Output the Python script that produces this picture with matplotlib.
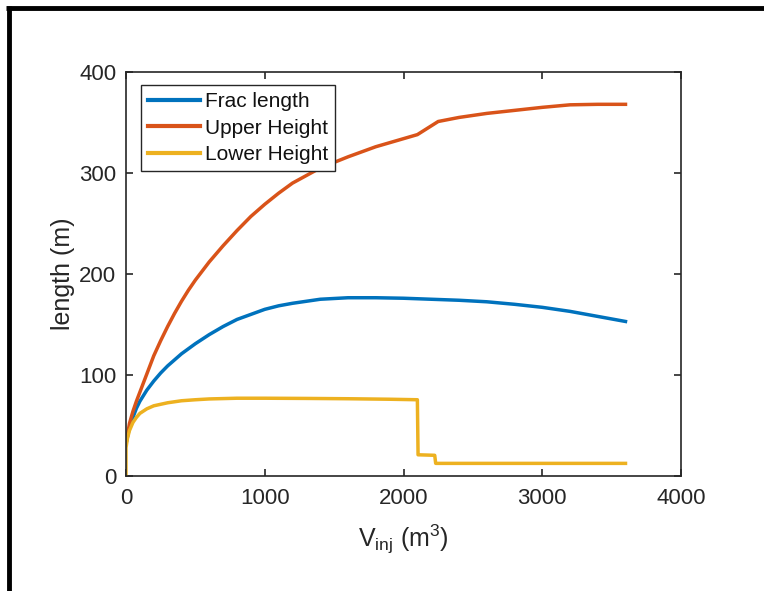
"""
Fracture geometry versus injected volume (length and heights).
"""

import matplotlib
matplotlib.use("Agg")
import matplotlib.pyplot as plt
from matplotlib.lines import Line2D

plt.rcParams["font.family"] = ["Liberation Sans", "DejaVu Sans"]

# Frac length
v_frac = [0, 25, 50, 75, 100, 150, 200, 250, 300, 400, 500, 600, 700, 800,
          900, 1000, 1100, 1200, 1400, 1600, 1800, 2000, 2200, 2400, 2600,
          2800, 3000, 3200, 3400, 3600]
l_frac = [32, 48, 58, 67, 74, 85, 94, 102, 109, 121, 131, 140, 148, 155,
          160, 165, 168.5, 171, 175, 176.5, 176.5, 176, 175, 174, 172.5,
          170, 167, 163, 158, 153]

# Upper height
v_upper = [0, 25, 50, 75, 100, 150, 200, 250, 300, 350, 400, 450, 500, 600,
           700, 800, 900, 1000, 1100, 1200, 1400, 1600, 1800, 2000, 2100,
           2250, 2400, 2600, 2800, 3000, 3200, 3400, 3600]
l_upper = [32, 52, 64, 74, 83, 101, 119, 134, 148, 161, 173, 184, 194, 212,
           228, 243, 257, 269, 280, 290, 305, 316, 326, 334, 338,
           351, 355, 359, 362, 365, 367.5, 368, 368]

# Lower height
v_lower = [0, 0, 10, 25, 50, 75, 100, 150, 200, 300, 400, 500, 600, 800,
           1000, 1300, 1600, 1900, 2100, 2105, 2225, 2232, 3600]
l_lower = [0, 28, 37, 45, 53, 58, 62, 66.5, 69.5, 72.5, 74.5, 75.5, 76.3, 77,
           77, 76.8, 76.5, 76, 75.5, 21, 20.5, 12.5, 12.5]

series_names = ["Frac length", "Upper Height", "Lower Height"]
series_colors = ["#0072BD", "#D95319", "#EDB120"]

x_ticks = [0, 1000, 2000, 3000, 4000]
y_ticks = [0, 100, 200, 300, 400]

fig = plt.figure(figsize=(7.64, 5.91), dpi=100)
ax = fig.add_axes([126 / 764, 1 - 476 / 591, 555 / 764, 404 / 591])

data = [(v_frac, l_frac), (v_upper, l_upper), (v_lower, l_lower)]
for (v, l), name, color in zip(data, series_names, series_colors):
    ax.plot(v, l, color=color, lw=2.5, label=name, solid_joinstyle="round")

ax.set_xlim(0, 4000)
ax.set_ylim(0, 400)
ax.set_xticks(x_ticks)
ax.set_yticks(y_ticks)

dark = "#262626"
for side in ["left", "right", "top", "bottom"]:
    ax.spines[side].set_color(dark)
    ax.spines[side].set_linewidth(1.2)
ax.tick_params(direction="in", top=True, right=True, length=5, width=1.2,
               color=dark, labelcolor=dark, labelsize=16)
ax.tick_params(axis="x", pad=9)
ax.tick_params(axis="y", pad=7)

ax.set_xlabel(r"V$_{\mathregular{inj}}$ (m$^{\mathregular{3}}$)", fontsize=18,
              color=dark, labelpad=10)
ax.set_ylabel("length (m)", fontsize=18, color=dark, labelpad=3)

leg = ax.legend(loc="upper left", bbox_to_anchor=(15 / 555, 1 - 13 / 404),
                borderaxespad=0, fontsize=15, frameon=True, fancybox=False,
                handlelength=2.5, handletextpad=0.2, labelspacing=0.35,
                borderpad=0.35)
leg.get_frame().set_edgecolor(dark)
leg.get_frame().set_linewidth(1.0)
leg.get_frame().set_alpha(1)
for t in leg.get_texts():
    t.set_color("#111111")
for h in leg.get_lines():
    h.set_linewidth(3)

# outer frame (top and left edges only)
fig.add_artist(Line2D([6 / 764, 1], [1 - 7.5 / 591, 1 - 7.5 / 591],
                      transform=fig.transFigure, color="black", lw=3.5,
                      solid_capstyle="butt"))
fig.add_artist(Line2D([8.5 / 764, 8.5 / 764], [0, 1 - 5.5 / 591],
                      transform=fig.transFigure, color="black", lw=3.5,
                      solid_capstyle="butt"))

fig.savefig("out.png", dpi=100)
